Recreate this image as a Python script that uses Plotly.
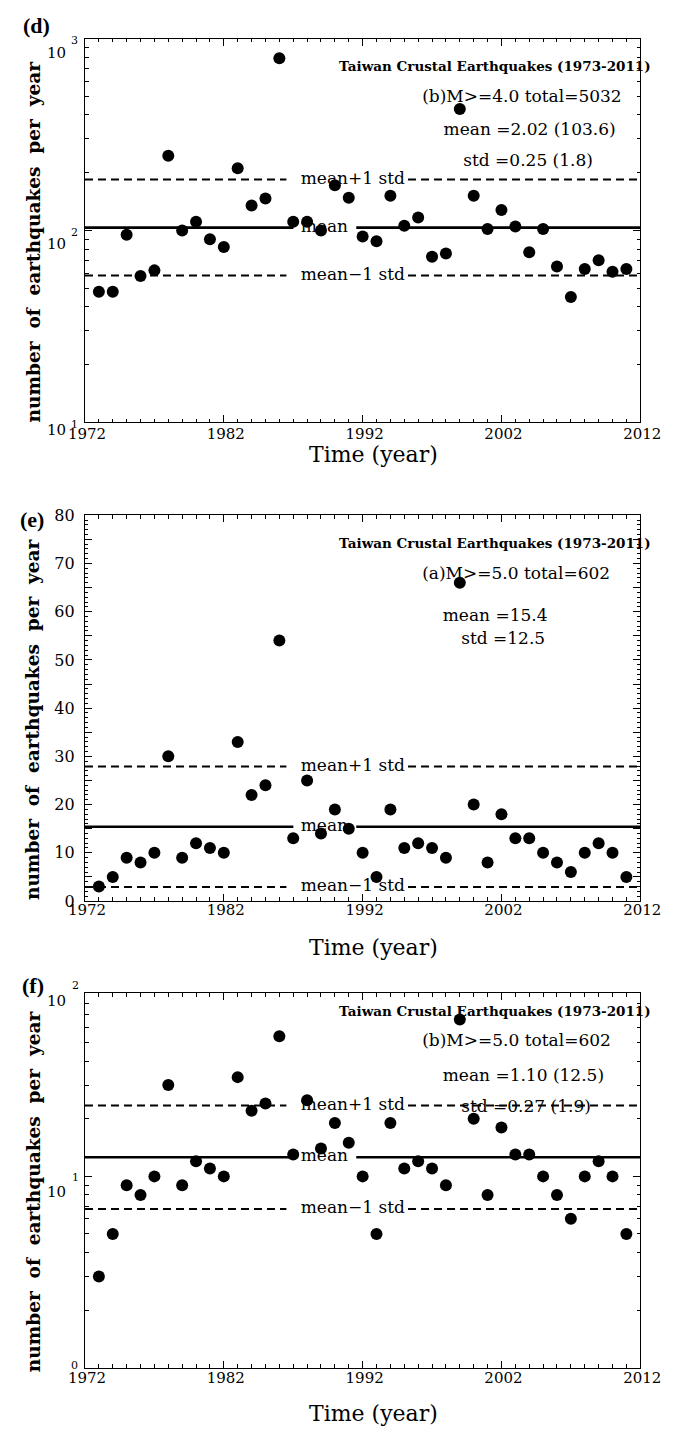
import math
import plotly.graph_objects as go

# ---------------- data ----------------
years = list(range(1973, 2012))

# annual counts, crustal events M>=4.0
counts_m4 = [48, 48, 95, 58, 62, 245, 100, 111, 90, 82,
             211, 135, 147, 790, 111, 111, 100, 172, 148, 93,
             88, 152, 106, 117, 73, 76, 430, 152, 102, 128,
             105, 77, 102, 65, 45, 63, 70, 61, 63]

# annual counts, crustal events M>=5.0
counts_m5 = [3, 5, 9, 8, 10, 30, 9, 12, 11, 10,
             33, 22, 24, 54, 13, 25, 14, 19, 15, 10,
             5, 19, 11, 12, 11, 9, 66, 20, 8, 18,
             13, 13, 10, 8, 6, 10, 12, 10, 5]

total_m4 = 5032
total_m5 = 602

# statistics shown in each panel
d_mean_log, d_std_log, d_gmean, d_gstd = 2.02, 0.25, 103.6, 1.8
e_mean, e_std = 15.4, 12.5
f_mean_log, f_std_log, f_gmean, f_gstd = 1.10, 0.27, 12.5, 1.9

x_major = list(range(1972, 2013, 5))
x_labels = [str(v) if (v - 1972) % 10 == 0 else "" for v in x_major]
e_major = list(range(0, 81, 5))
e_labels = [str(v) if v % 10 == 0 else "" for v in e_major]
d_exponents = [1, 2, 3]
f_exponents = [1, 2]
f_top_log = 1.959

# ---------------- layout helpers ----------------
W, H = 683, 1437
LEFT, RIGHT = 72, 660
BOXES = {"d": (30, 419), "e": (513, 904), "f": (997, 1377)}
SERIF = "DejaVu Serif"
TITLE_SERIF = "Liberation Serif"


def ydom(key):
    top, bottom = BOXES[key]
    return [1 - bottom / H, 1 - top / H]


def py(y):
    return 1 - y / H


fig = go.Figure()


def add_panel(xr, yr, values, header, center, upper, lower):
    # header and statistics text
    for (tx, ty, txt, fnt) in header:
        fig.add_trace(go.Scatter(
            x=[tx], y=[ty], mode="text", text=[txt], textposition="middle right",
            textfont=fnt, xaxis=xr, yaxis=yr, hoverinfo="skip", showlegend=False,
            cliponaxis=False))
    # line labels
    for val, lab in [(upper, "mean+1 std"), (center, "mean"), (lower, "mean\u22121 std")]:
        fig.add_trace(go.Scatter(
            x=[1987.54], y=[val], mode="text", text=[lab], textposition="middle right",
            textfont=dict(family=SERIF, size=17, color="black"),
            xaxis=xr, yaxis=yr, hoverinfo="skip", showlegend=False))
    # reference lines, broken around their labels
    for val, dash, gap, w in [(upper, "8px,5px", (1986.51, 1995.27), 2),
                              (lower, "8px,5px", (1986.51, 1995.27), 2),
                              (center, "solid", (1987.01, 1991.54), 2.6)]:
        fig.add_trace(go.Scatter(
            x=[1972, gap[0], None, gap[1], 2012], y=[val, val, None, val, val],
            mode="lines", line=dict(color="black", width=w, dash=dash),
            xaxis=xr, yaxis=yr, hoverinfo="skip", showlegend=False, connectgaps=False))
    # yearly counts
    fig.add_trace(go.Scatter(
        x=years, y=values, mode="markers",
        marker=dict(color="black", size=12, line=dict(width=0)),
        xaxis=xr, yaxis=yr, showlegend=False))


hdr_font = dict(family=SERIF, size=13.5, color="black")
st_font = dict(family=SERIF, size=17, color="black")
header_title = "<b>Taiwan Crustal Earthquakes (1973-2011)</b>"

# panel (d): M>=4.0, log scale
add_panel("x", "y", counts_m4,
          [(1990.3, 709.6, header_title, hdr_font),
           (1996.29, 492, f"(b)M>=4.0 total={total_m4}", st_font),
           (1997.83, 333, f"mean ={d_mean_log:.2f} ({d_gmean})", st_font),
           (1999.25, 228.6, f"std ={d_std_log:.2f} ({d_gstd})", st_font)],
          d_gmean, d_gmean * 10 ** d_std_log, d_gmean / 10 ** d_std_log)

# panel (e): M>=5.0, linear scale
add_panel("x2", "y2", counts_m5,
          [(1990.3, 73.96, header_title, hdr_font),
           (1996.29, 67.55, f"(a)M>=5.0 total={total_m5}", st_font),
           (1997.77, 58.96, f"mean ={e_mean}", st_font),
           (1999.1, 54.25, f"std ={e_std}", st_font)],
          e_mean, e_mean + e_std, e_mean - e_std)

# panel (f): M>=5.0, log scale
add_panel("x3", "y3", counts_m5,
          [(1990.3, 10 ** 1.854, header_title, hdr_font),
           (1996.29, 10 ** 1.7026, f"(b)M>=5.0 total={total_m5}", st_font),
           (1997.77, 10 ** 1.522, f"mean ={f_mean_log:.2f} ({f_gmean})", st_font),
           (1999.1, 10 ** 1.359, f"std ={f_std_log:.2f} ({f_gstd})", st_font)],
          10 ** f_mean_log, 10 ** (f_mean_log + f_std_log), 10 ** (f_mean_log - f_std_log))

xtick_font = dict(family=SERIF, size=15, color="black")
ytick_font = dict(family=SERIF, size=16, color="black")


def xaxis_cfg(anchor, standoff):
    return dict(domain=[LEFT / W, RIGHT / W], range=[1972, 2012], anchor=anchor,
                tickmode="array", tickvals=x_major, ticktext=x_labels,
                ticks="inside", ticklen=7, tickwidth=1.2, tickcolor="black",
                minor=dict(tickmode="array", tickvals=years, ticks="inside",
                           ticklen=3.5, tickwidth=1.1, tickcolor="black"),
                showline=True, linecolor="black", linewidth=1.4, mirror="ticks",
                showgrid=False, zeroline=False, tickfont=xtick_font,
                ticklabelstandoff=standoff, ticklabelshift=2)


def log_minor(lo, hi):
    vals = []
    for p in range(lo, hi):
        for m in range(2, 10):
            vals.append(m * 10 ** p)
    return vals


yaxis_common = dict(ticks="inside", ticklen=7, tickwidth=1.2, tickcolor="black",
                    showline=True, linecolor="black", linewidth=1.4, mirror="ticks",
                    showgrid=False, zeroline=False, tickfont=ytick_font)

fig.update_layout(
    width=W, height=H, margin=dict(l=0, r=0, t=0, b=0),
    paper_bgcolor="white", plot_bgcolor="white", showlegend=False,
    xaxis=xaxis_cfg("y", -3),
    xaxis2=xaxis_cfg("y2", -5),
    xaxis3=xaxis_cfg("y3", -4),
    yaxis=dict(domain=ydom("d"), anchor="x", type="log", range=[1, 3],
               tickmode="array", tickvals=[10 ** p for p in d_exponents],
               showticklabels=False,
               minor=dict(tickmode="array", tickvals=log_minor(1, 3), ticks="inside",
                          ticklen=3.5, tickwidth=1.1, tickcolor="black"),
               **yaxis_common),
    yaxis2=dict(domain=ydom("e"), anchor="x2", range=[0, 80],
                tickmode="array", tickvals=e_major, ticktext=e_labels,
                minor=dict(dtick=1, ticks="inside", ticklen=3, tickwidth=1,
                           tickcolor="black"),
                ticklabelstandoff=6, **yaxis_common),
    yaxis3=dict(domain=ydom("f"), anchor="x3", type="log", range=[0, f_top_log],
                tickmode="array", tickvals=[1, 10], showticklabels=False,
                minor=dict(tickmode="array", tickvals=log_minor(0, 2), ticks="inside",
                           ticklen=3.5, tickwidth=1.1, tickcolor="black"),
                **yaxis_common),
)

ann = []
base_font = dict(family=SERIF, size=15, color="black")
sup_font = dict(family=SERIF, size=11, color="black")
# power-of-ten labels on the log axes (domain fractions so the 10^2 label
# above the top of panel f is still drawn)
d_shift = {1: (-8, -2), 2: (-13, -2), 3: (-14, -2)}
for p in d_exponents:
    frac = (p - 1) / 2
    ann.append(dict(xref="paper", yref="y domain", x=54 / W, y=frac, xanchor="right",
                    yanchor="middle", yshift=d_shift[p][0], text="10", showarrow=False,
                    font=base_font))
    ann.append(dict(xref="paper", yref="y domain", x=55.5 / W, y=frac, xanchor="left",
                    yanchor="middle", yshift=d_shift[p][1], text=str(p), showarrow=False,
                    font=sup_font))
for p in f_exponents:
    frac = p / f_top_log
    ann.append(dict(xref="paper", yref="y3 domain", x=54 / W, y=frac, xanchor="right",
                    yanchor="middle", yshift=-16, text="10", showarrow=False, font=base_font))
    ann.append(dict(xref="paper", yref="y3 domain", x=56.5 / W, y=frac, xanchor="left",
                    yanchor="middle", yshift=-1, text=str(p), showarrow=False, font=sup_font))
ann.append(dict(xref="paper", yref="y3 domain", x=55 / W, y=0, xanchor="left",
                yanchor="middle", yshift=2, text="0", showarrow=False, font=sup_font))

ytitle = "\u00a0\u00a0".join(["number", "of", "earthquakes", "per", "year"])
for key, xt_y in [("d", 451), ("e", 951), ("f", 1423)]:
    top, bottom = BOXES[key]
    ann.append(dict(xref="paper", yref="paper", x=17 / W, y=py((top + bottom) / 2 + 12),
                    text=f"<b>{ytitle}</b>", textangle=-90, showarrow=False,
                    xanchor="center", yanchor="middle",
                    font=dict(family=SERIF, size=18.5, color="black")))
    ann.append(dict(xref="paper", yref="paper", x=378 / W, y=py(xt_y),
                    text="Time (year)", showarrow=False, xanchor="center", yanchor="middle",
                    font=dict(family=SERIF, size=22, color="black")))

for lab, cx, cy in [("(d)", 21, 17), ("(e)", 16, 517), ("(f)", 16.5, 990)]:
    ann.append(dict(xref="paper", yref="paper", x=cx / W, y=py(cy), text=f"<b>{lab}</b>",
                    showarrow=False, xanchor="center", yanchor="middle",
                    font=dict(family=TITLE_SERIF, size=22, color="black")))

fig.update_layout(annotations=ann)

fig.write_html("out.html")
